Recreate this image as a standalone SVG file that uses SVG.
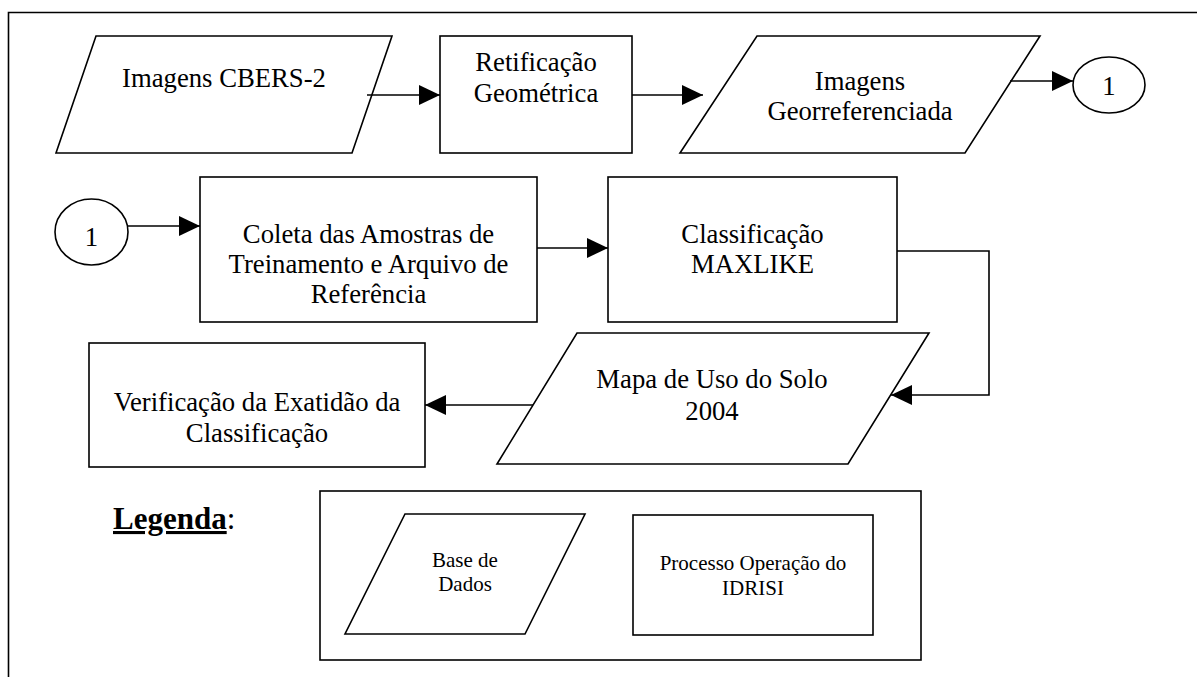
<svg xmlns="http://www.w3.org/2000/svg" width="1197" height="677" viewBox="0 0 1197 677">
<style>
.s{fill:#fff;stroke:#000;stroke-width:1.6}
.c{fill:none;stroke:#000;stroke-width:1.6}
.t{font-family:"Liberation Serif","Times New Roman",serif;font-size:26.7px;fill:#000;text-anchor:middle}
.sm{font-size:21px}
</style>
<defs>
<marker id="ah" markerUnits="userSpaceOnUse" markerWidth="21" markerHeight="20" viewBox="0 0 21 20" refX="21" refY="10" orient="auto">
<path d="M0,0 L21,10 L0,20 z" fill="#000"/>
</marker>
</defs>
<rect width="1197" height="677" fill="#fff"/>
<g id="frame"><path class="c" d="M8.5,677 V12.5 H1197"/></g>

<g id="n-cbers"><polygon class="s" points="96,36 392,36 352,153 56,153"/><text class="t" x="224" y="87">Imagens CBERS-2</text></g>
<g id="n-retif"><rect class="s" x="440" y="36" width="192" height="117"/><text class="t" x="536" y="71">Retificação</text><text class="t" x="536" y="102">Geométrica</text></g>
<g id="n-georef"><polygon class="s" points="757,36 1040,36 965,153 680,153"/><text class="t" x="860" y="90">Imagens</text><text class="t" x="860" y="120">Georreferenciada</text></g>
<g id="n-c1a"><ellipse class="s" cx="1109" cy="85" rx="36" ry="28"/><text class="t" x="1109" y="95">1</text></g>

<g id="n-c1b"><ellipse class="s" cx="91.5" cy="232" rx="36.5" ry="33"/><text class="t" x="91.5" y="246">1</text></g>
<g id="n-coleta"><rect class="s" x="200" y="177" width="337" height="145"/><text class="t" x="368.5" y="243">Coleta das Amostras de</text><text class="t" x="368.5" y="273">Treinamento e Arquivo de</text><text class="t" x="368.5" y="303">Referência</text></g>
<g id="n-class"><rect class="s" x="608" y="177" width="289" height="145"/><text class="t" x="752.5" y="243">Classificação</text><text class="t" x="752.5" y="273">MAXLIKE</text></g>
<g id="n-mapa"><polygon class="s" points="577,333 929,333 848,464 497,464"/><text class="t" x="712" y="388">Mapa de Uso do Solo</text><text class="t" x="712" y="420">2004</text></g>
<g id="n-verif"><rect class="s" x="89" y="343" width="336" height="124"/><text class="t" x="257" y="411">Verificação da Exatidão da</text><text class="t" x="257" y="442">Classificação</text></g>

<g id="legend">
<text x="113" y="529" font-family="'Liberation Serif','Times New Roman',serif" font-size="31px" fill="#000"><tspan font-weight="bold" text-decoration="underline">Legenda</tspan>:</text>
<rect class="s" x="320" y="491" width="601" height="169"/>
<g id="lg-base"><polygon class="s" points="405,514 585,514 525,634 345,634"/><text class="t sm" x="465" y="567">Base de</text><text class="t sm" x="465" y="591">Dados</text></g>
<g id="lg-proc"><rect class="s" x="633" y="515" width="240" height="120"/><text class="t sm" x="753" y="570">Processo Operação do</text><text class="t sm" x="753" y="595">IDRISI</text></g>
</g>

<g id="connectors">
<path class="c" d="M367,95 H440" marker-end="url(#ah)"/>
<path class="c" d="M632,95 H703" marker-end="url(#ah)"/>
<path class="c" d="M1010,81 H1073" marker-end="url(#ah)"/>
<path class="c" d="M128,226 H200" marker-end="url(#ah)"/>
<path class="c" d="M537,248 H608" marker-end="url(#ah)"/>
<path class="c" d="M897,251 H989 V395 H891" marker-end="url(#ah)"/>
<path class="c" d="M533,405 H425" marker-end="url(#ah)"/>
</g>
</svg>
